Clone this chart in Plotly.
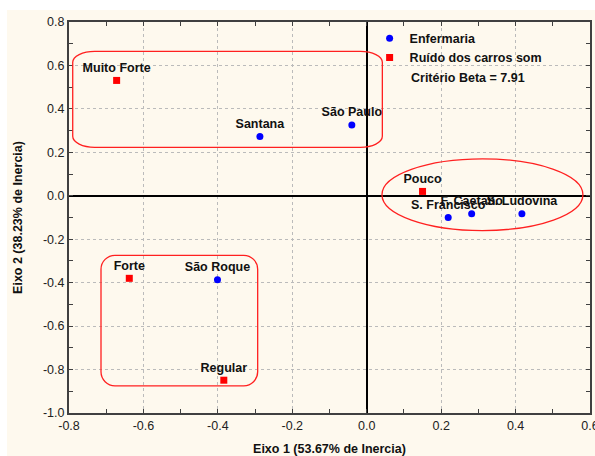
import plotly.graph_objects as go

# ---- data ----
enf_names = ["Santana", "São Paulo", "S. Francisco", "F. Caetano", "S. Ludovina", "São Roque"]
enf_x = [-0.287, -0.040, 0.219, 0.282, 0.417, -0.401]
enf_y = [0.273, 0.326, -0.100, -0.083, -0.083, -0.386]

rui_names = ["Muito Forte", "Pouco", "Forte", "Regular"]
rui_x = [-0.672, 0.150, -0.638, -0.384]
rui_y = [0.531, 0.020, -0.380, -0.849]

x_ticks = [-0.8, -0.6, -0.4, -0.2, 0.0, 0.2, 0.4, 0.6]
y_ticks = [0.8, 0.6, 0.4, 0.2, 0.0, -0.2, -0.4, -0.6, -0.8, -1.0]

# grouping outlines: (x0, x1, y0, y1, corner_rx_px, corner_ry_px)
groups_rect = [(-0.790, 0.042, 0.223, 0.665, 22, 11),
               (-0.714, -0.293, -0.875, -0.274, 14, 14)]
groups_ellipse = [(0.041, 0.581, -0.160, 0.170)]

FONT = "Arial, Liberation Sans, sans-serif"
PX_X = 372.5 / 1.0   # px per unit (approx) for corner radius conversion
PX_Y = 217.5 / 1.0

def rounded_rect_path(x0, x1, y0, y1, rxp, ryp):
    rx = rxp / PX_X
    ry = ryp / PX_Y
    k = 0.5523
    p = []
    p.append(f"M {x0+rx},{y1}")
    p.append(f"L {x1-rx},{y1}")
    p.append(f"C {x1-rx+k*rx},{y1} {x1},{y1-ry+k*ry} {x1},{y1-ry}")
    p.append(f"L {x1},{y0+ry}")
    p.append(f"C {x1},{y0+ry-k*ry} {x1-rx+k*rx},{y0} {x1-rx},{y0}")
    p.append(f"L {x0+rx},{y0}")
    p.append(f"C {x0+rx-k*rx},{y0} {x0},{y0+ry-k*ry} {x0},{y0+ry}")
    p.append(f"L {x0},{y1-ry}")
    p.append(f"C {x0},{y1-ry+k*ry} {x0+rx-k*rx},{y1} {x0+rx},{y1}")
    p.append("Z")
    return " ".join(p)

fig = go.Figure()

fig.add_trace(go.Scatter(
    x=enf_x, y=enf_y, mode="markers+text", text=enf_names,
    textposition="top center", name="Enfermaria",
    marker=dict(symbol="circle", size=7, color="#0000FF"),
    textfont=dict(family=FONT, size=12.5, color="#111111", weight="bold"),
    cliponaxis=False,
))
fig.add_trace(go.Scatter(
    x=rui_x, y=rui_y, mode="markers+text", text=rui_names,
    textposition="top center", name="Ruído dos carros som",
    marker=dict(symbol="square", size=7, color="#FF0000"),
    textfont=dict(family=FONT, size=12.5, color="#111111", weight="bold"),
    cliponaxis=False,
))

shapes = []
# cream background panel
shapes.append(dict(type="rect", xref="paper", yref="paper",
                   x0=-0.119, x1=1.02, y0=-0.15, y1=1.031,
                   fillcolor="#FEF9EE", line=dict(width=0), layer="below"))
for (x0, x1, y0, y1, rxp, ryp) in groups_rect:
    shapes.append(dict(type="path", path=rounded_rect_path(x0, x1, y0, y1, rxp, ryp),
                       line=dict(color="#FF2020", width=1.3), layer="above"))
for (x0, x1, y0, y1) in groups_ellipse:
    shapes.append(dict(type="circle", x0=x0, x1=x1, y0=y0, y1=y1,
                       line=dict(color="#FF2020", width=1.3), layer="above"))

axis_common = dict(
    showline=True, linecolor="#404040", linewidth=2, mirror="ticks",
    ticks="inside", ticklen=4, tickcolor="#404040", tickwidth=1,
    showgrid=True, gridcolor="#BBBBBB", griddash="dot", gridwidth=1,
    zeroline=True, zerolinecolor="#000000", zerolinewidth=1.5,
    tickfont=dict(family=FONT, size=12.5, color="#222222"),
    minor=dict(ticks="inside", dtick=0.1, ticklen=4, tickcolor="#404040", showgrid=False),
    automargin=False,
    ticklabeloverflow="allow",
)

fig.update_layout(
    width=595, height=456,
    margin=dict(l=69, r=5, t=22, b=43),
    paper_bgcolor="#FFFFFF", plot_bgcolor="#FFFFFF",
    shapes=shapes,
    showlegend=True,
    legend=dict(x=0.577, y=0.996, xanchor="left", yanchor="top",
                bgcolor="rgba(0,0,0,0)", borderwidth=0,
                font=dict(family=FONT, size=12.5, color="#111111", weight="bold"),
                tracegroupgap=0, itemsizing="trace"),
    annotations=[dict(text="<b>Critério Beta = 7.91</b>", xref="paper", yref="paper",
                      x=0.6526, y=0.857, xanchor="left", yanchor="middle",
                      showarrow=False, font=dict(family=FONT, size=12.5, color="#111111"))],
)

fig.update_xaxes(range=[-0.8, 0.6], tickvals=x_ticks,
                 ticktext=[f"{v:.1f}" for v in x_ticks],
                 title=dict(text="<b>Eixo 1 (53.67% de Inercia)</b>", standoff=15,
                            font=dict(family=FONT, size=12.5, color="#111111")),
                 **axis_common)
fig.update_yaxes(range=[-1.0, 0.8], tickvals=y_ticks,
                 ticktext=[f"{v:.1f}" for v in y_ticks],
                 title=dict(text="<b>Eixo 2 (38.23% de Inercia)</b>", standoff=18,
                            font=dict(family=FONT, size=12.5, color="#111111")),
                 **axis_common)

fig.write_html("out.html")
